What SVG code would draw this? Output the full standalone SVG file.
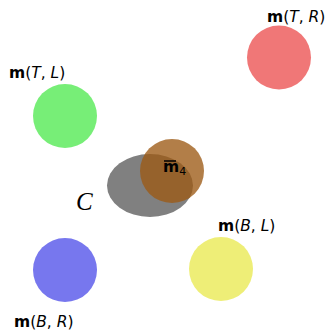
<svg xmlns="http://www.w3.org/2000/svg" width="328" height="331" viewBox="0 0 328 331">
<style>
.lbl{font-family:"DejaVu Sans","Liberation Sans",sans-serif;font-size:15.5px;fill:#000}
.b{font-weight:bold}
.i{font-style:italic}
</style>
<rect width="328" height="331" fill="#fff"/>
<g id="nodeTL">
<circle cx="65" cy="116" r="32" fill="#77ee77"/>
<text class="lbl" x="9" y="78"><tspan class="b">m</tspan>(<tspan class="i">T</tspan>, <tspan class="i">L</tspan>)</text>
</g>
<g id="nodeTR">
<circle cx="279" cy="57.5" r="32" fill="#f07777"/>
<text class="lbl" x="267" y="22"><tspan class="b">m</tspan>(<tspan class="i">T</tspan>, <tspan class="i">R</tspan>)</text>
</g>
<g id="nodeBL">
<circle cx="221" cy="269" r="32" fill="#eeee77"/>
<text class="lbl" x="218" y="231"><tspan class="b">m</tspan>(<tspan class="i">B</tspan>, <tspan class="i">L</tspan>)</text>
</g>
<g id="nodeBR">
<circle cx="65" cy="270" r="32" fill="#7777ee"/>
<text class="lbl" x="14" y="327"><tspan class="b">m</tspan>(<tspan class="i">B</tspan>, <tspan class="i">R</tspan>)</text>
</g>
<g id="nodeC">
<ellipse cx="150" cy="185.5" rx="43" ry="31.5" fill="#808080"/>
<text x="76" y="210" font-family="Liberation Serif,serif" font-style="italic" font-size="25">C</text>
</g>
<g id="nodeM4">
<circle cx="172" cy="171" r="32" fill="#9c5a14" fill-opacity="0.78"/>
<text class="lbl" x="163" y="172"><tspan class="b">m</tspan><tspan font-size="11" dy="3">4</tspan></text>
<line x1="164" y1="161" x2="176" y2="161" stroke="#000" stroke-width="1.5"/>
</g>
<g id="connectors"/>
</svg>
